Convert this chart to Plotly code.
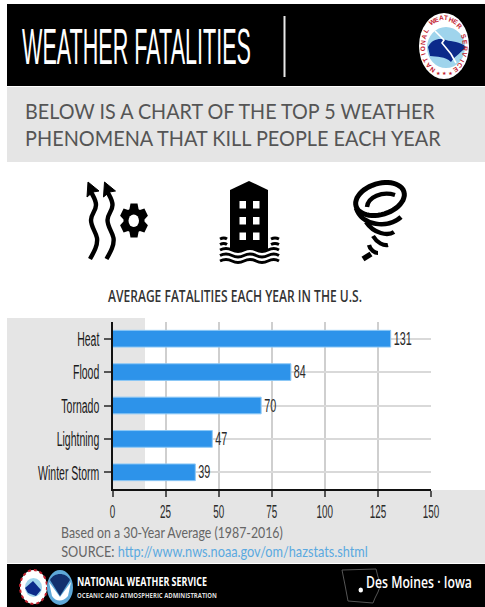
import json
import math
import plotly.graph_objects as go

# Average yearly fatalities by weather phenomenon
categories = ["Heat", "Flood", "Tornado", "Lightning", "Winter Storm"]
fatalities = [131, 84, 70, 47, 39]
x_ticks = [0, 25, 50, 75, 100, 125, 150]

W, H = 485, 607
NARROW = "Liberation Sans"
BODY = "Lato"
shapes, notes = [], []


def page(kind, x0, y0, x1, y1, fill=None, line=None, lw=0, layer="below", dash=None):
    shapes.append(dict(type=kind, xref="x", yref="y", x0=x0, y0=y0, x1=x1, y1=y1,
                       fillcolor=fill, layer=layer,
                       line=dict(color=line or "rgba(0,0,0,0)", width=lw, dash=dash)))


def path(d, fill=None, line=None, lw=0):
    shapes.append(dict(type="path", xref="x", yref="y", path=d, layer="below",
                       fillcolor=fill or "rgba(0,0,0,0)",
                       line=dict(color=line or "rgba(0,0,0,0)", width=lw)))


def label(x, y, text, size, color, family=BODY, anchor="left", angle=0, bold=False, weight=None):
    font = dict(size=size, color=color, family=family)
    if weight:
        font["weight"] = weight
    notes.append(dict(xref="x", yref="y", x=x, y=y, text=f"<b>{text}</b>" if bold else text,
                      showarrow=False, xanchor=anchor, yanchor="middle", textangle=angle,
                      font=font, borderpad=0, borderwidth=0))


def rotated_ellipse(cx, cy, rx, ry, deg, n=48):
    a = math.radians(deg)
    pts = []
    for i in range(n):
        t = 2 * math.pi * i / n
        x, y = rx * math.cos(t), ry * math.sin(t)
        pts.append((cx + x * math.cos(a) - y * math.sin(a), cy + x * math.sin(a) + y * math.cos(a)))
    return "M " + " L ".join(f"{x:.1f} {y:.1f}" for x, y in pts) + " Z"


# Page bands
page("rect", 7, 4, W, 86, fill="#000000")
page("rect", 7, 87, W, 162, fill="#e5e5e5")
page("rect", 7, 318, 145, 491, fill="#e5e5e5")
page("rect", 7, 490, W, 563, fill="#e5e5e5")
page("rect", 7, 564, W, H, fill="#000000")
page("rect", 283.5, 16, 285.5, 77, fill="#e8e8e8")

# Heat icon: two wavy arrows and a gear
for dx in (0, 16.5):
    path(f"M {90+dx} 259 C {94+dx} 252 {98+dx} 245 {97+dx} 238 C {96+dx} 232 {91+dx} 227 {91+dx} 220 "
         f"C {91+dx} 214 {96+dx} 211 {96+dx} 205 C {96+dx} 200 {93+dx} 196 {91+dx} 192", line="#000", lw=4.4)
    path(f"M {88+dx} 182 L {99+dx} 191 L {93+dx} 192 L {87+dx} 197 Z", fill="#000", line="#000", lw=1)
gear = []
for i in range(6):
    c = math.radians(60 * i)
    for off, r in ((-26, 10.5), (-14, 14.5), (14, 14.5), (26, 10.5)):
        t = c + math.radians(off)
        gear.append((134 + r * math.sin(t), 220.5 - 1.2 * r * math.cos(t)))
path("M " + " L ".join(f"{x:.1f} {y:.1f}" for x, y in gear) + " Z", fill="#000")
page("circle", 128.5, 214.5, 139, 227, fill="#fff")

# Flood icon: building standing in water
path("M 230 190 L 249 181 L 268 190 L 268 250 L 230 250 Z", fill="#000")
for wx in (239.5, 253):
    for wy in (201, 217, 232.5):
        page("rect", wx, wy, wx + 6.5, wy + 7.5, fill="#fff")
for wy in (239, 244.5):
    path(f"M 220 {wy} Q 224 {wy-2} 227 {wy}", line="#000", lw=3)
    path(f"M 271 {wy} Q 275 {wy-2} 279 {wy}", line="#000", lw=3)
path("M 220 250 Q 226 247 232 250 T 244 250 T 256 250 T 268 250 T 279 250", line="#000", lw=3)
path("M 220 255.5 Q 226 252.5 232 255.5 T 244 255.5 T 256 255.5 T 268 255.5 T 279 255.5", line="#000", lw=3)
path("M 220 261 Q 226 258 232 261 T 244 261 T 256 261 T 268 261 T 279 261", line="#000", lw=3)

# Tornado icon: funnel of curved strokes
path(rotated_ellipse(380, 199, 25, 15.5, -17), line="#000", lw=5)
path("M 367 207 C 368 197 382 191 395 195", line="#000", lw=4.4)
path("M 356 208 C 362 226 388 229 401 217", line="#000", lw=4.6)
path("M 366 222 C 374 234 388 236 394 232", line="#000", lw=4.4)
path("M 373 236 C 377 243 384 246 388 245", line="#000", lw=4.2)
path("M 369 245 C 370 250 375 253 378 253", line="#000", lw=4.2)
path("M 363 259 L 371 254", line="#000", lw=5.5)

# Agency seal in the header
page("circle", 419, 13, 469, 79, fill="#ffffff")
page("circle", 427, 27, 465, 68, fill="#9fd4ec")
path("M 428 47 C 432 39 440 38 446 40 C 452 42 460 41 466 47 C 462 52 455 56 451 62 "
     "C 445 56 437 57 430 56 Z", fill="#0b2a8a")
path("M 435 31 L 444 40 L 442 43 L 451 54 L 456 63", line="#ffffff", lw=1.6)
seal = "NATIONAL WEATHER SERVICE"
for i, ch in enumerate(seal):
    th = math.radians(-146 + 292 * i / (len(seal) - 1))
    label(444 + 21.5 * math.sin(th), 46 - 28.5 * math.cos(th), ch, 6.5, "#c3202e",
          family="Liberation Sans", anchor="center", angle=math.degrees(th), bold=True)
label(444, 73, "★ ★ ★", 5, "#c3202e", family="DejaVu Sans", anchor="center")

# Footer seals
page("circle", 20, 570, 47, 604, fill="#ffffff", line="#c3202e", lw=2, dash="dot")
page("circle", 25, 578, 42, 597, fill="#9fd4ec")
path("M 25 588 L 33 581 L 41 590 L 36 596 L 28 593 Z", fill="#0b2a8a")
page("circle", 47, 570, 73, 605, fill="#5ea8d8")
path("M 50 580 C 54 572 66 572 70 580 L 60 596 Z", fill="#12306e")
path("M 49 582 L 60 597 L 71 582 L 68 596 C 63 602 56 602 52 596 Z", fill="#ffffff")

# State outline with the office location
path("M 342 570 L 376 569 L 378 577 L 381 584 L 378 592 L 375 598 L 373 603 L 348 601 L 345 585 Z",
     line="#555555", lw=1)
page("circle", 358.5, 587.5, 363, 592.5, fill="#ffffff")

# Header and footer text, with the width each line is fitted to
line_widths = {
    "WEATHER FATALITIES": 229,
    "BELOW IS": 410,
    "PHENOMENA": 416,
    "AVERAGE": 254,
    "Based on": 222,
    "SOURCE": 307,
    "NATIONAL WEATHER SERVICE": 130,
    "OCEANIC": 140,
    "Des Moines": 106,
}
label(22, 47, "WEATHER FATALITIES", 50, "#ffffff", family=NARROW)
label(25, 110, "BELOW IS A CHART OF THE TOP 5 WEATHER", 22, "#555555")
label(25, 137, "PHENOMENA THAT KILL PEOPLE EACH YEAR", 22, "#555555")
label(108, 295, "AVERAGE FATALITIES EACH YEAR IN THE U.S.", 16.5, "#333333", family="Open Sans", weight=600)
label(61, 532, "Based on a 30-Year Average (1987-2016)", 14.5, "#666666")
label(61, 551, 'SOURCE: <span style="color:#5aa9e0">http://www.nws.noaa.gov/om/hazstats.shtml</span>', 14.5, "#666666")
label(77, 581, "NATIONAL WEATHER SERVICE", 12.5, "#ffffff", family="Open Sans", bold=True)
label(77, 595, "OCEANIC AND ATMOSPHERIC ADMINISTRATION", 7.5, "#dddddd", family="Open Sans", bold=True)
label(366, 582, "Des Moines · Iowa", 16, "#ffffff", family="Open Sans", weight=600)

fig = go.Figure(go.Bar(
    x=fatalities, y=categories, orientation="h", width=0.5, xaxis="x2", yaxis="y2",
    marker=dict(color="#2d93ea", line=dict(color="#8cc8f6", width=1)),
    text=fatalities, textposition="outside", cliponaxis=False, constraintext="none",
    textfont=dict(family=NARROW, size=18, color="#2a2a2a"), hoverinfo="skip",
))

fig.update_layout(
    width=W, height=H, margin=dict(l=0, r=0, t=0, b=0, autoexpand=False), autosize=False,
    paper_bgcolor="#ffffff", plot_bgcolor="rgba(0,0,0,0)", showlegend=False,
    shapes=shapes, annotations=notes,
    # Page-pixel axes carrying the bands, icons and text
    xaxis=dict(domain=[0, 1], range=[0, W], visible=False, anchor="y", fixedrange=True),
    yaxis=dict(domain=[0, 1], range=[H, 0], visible=False, anchor="x", fixedrange=True),
    # Axes of the bar chart
    xaxis2=dict(domain=[112.5 / W, 431 / W], range=[0, 150], tickvals=x_ticks, showgrid=True,
                gridcolor="#cfcfcf", gridwidth=2, zeroline=False, showline=True, linecolor="#111111",
                linewidth=2, ticks="outside", ticklen=6, tickcolor="#555555", tickwidth=1.5,
                ticklabelstandoff=-2, tickfont=dict(family=NARROW, size=19, color="#2a2a2a"), anchor="y2"),
    yaxis2=dict(domain=[1 - 489 / H, 1 - 322 / H], range=[4.5, -0.5], type="category",
                categoryorder="array", categoryarray=categories, showgrid=True,
                gridcolor="#d9d9d9", gridwidth=2, zeroline=False, showline=True, linecolor="#111111",
                linewidth=2, ticks="outside", ticklen=7, tickcolor="#555555", tickwidth=1.5,
                ticklabelstandoff=0, tickfont=dict(family=NARROW, size=21, color="#1a1a1a"), anchor="x2"),
)

# Condense the tall labels horizontally so they keep their narrow, poster-like proportions
condense = """
var gd = document.querySelector('.plotly-graph-div');
var widths = %s;
function squeeze(el, sx, side) {
  if (el.dataset.fit) return;
  el.dataset.fit = '1';
  var b = el.getBBox();
  var ax = side === 'right' ? b.x + b.width : side === 'center' ? b.x + b.width / 2 : b.x;
  var prev = el.getAttribute('transform') || '';
  el.setAttribute('transform', prev + ' translate(' + ax + ',0) scale(' + sx + ',1) translate(' + (-ax) + ',0)');
}
function fitAll() {
  gd.querySelectorAll('.y2tick text').forEach(function (t) { squeeze(t, 0.5, 'right'); });
  gd.querySelectorAll('.x2tick text').forEach(function (t) { squeeze(t, 0.52, 'center'); });
  gd.querySelectorAll('.bartext').forEach(function (t) { squeeze(t, 0.6, 'left'); });
  gd.querySelectorAll('.annotation-text').forEach(function (t) {
    Object.keys(widths).forEach(function (k) {
      if (t.textContent.indexOf(k) === 0) squeeze(t, widths[k] / t.getBBox().width, 'left');
    });
  });
}
fitAll();
setTimeout(fitAll, 50);
""" % json.dumps(line_widths)

fig.write_html("out.html", config=dict(displayModeBar=False), post_script=condense)
